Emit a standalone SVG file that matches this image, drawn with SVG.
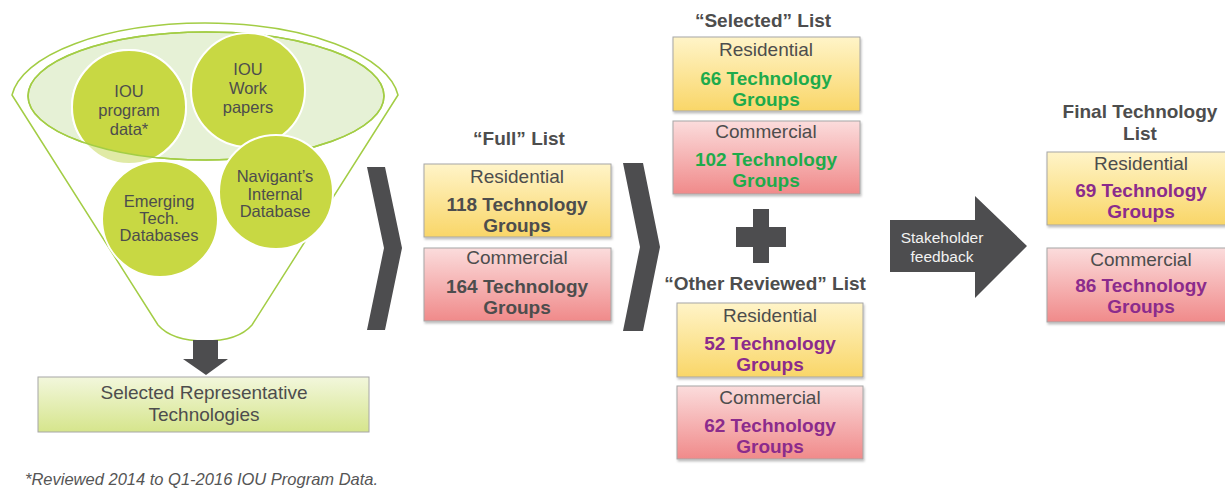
<svg xmlns="http://www.w3.org/2000/svg" width="1225" height="492" viewBox="0 0 1225 492">
<defs>
<linearGradient id="gy" x1="0" y1="0" x2="0" y2="1"><stop offset="0" stop-color="#fff4c8"/><stop offset="1" stop-color="#f9d668"/></linearGradient>
<linearGradient id="gp" x1="0" y1="0" x2="0" y2="1"><stop offset="0" stop-color="#fbdcdc"/><stop offset="1" stop-color="#f08a8a"/></linearGradient>
<linearGradient id="gg" x1="0" y1="0" x2="0" y2="1"><stop offset="0" stop-color="#f2f7dc"/><stop offset="1" stop-color="#d6e58c"/></linearGradient>
<clipPath id="inner"><ellipse cx="206" cy="96" rx="178" ry="64"/></clipPath>
<filter id="sh" x="-5%" y="-5%" width="110%" height="120%"><feDropShadow dx="1" dy="2" stdDeviation="1.2" flood-color="#000" flood-opacity="0.25"/></filter>
</defs>
<style>
text{font-family:"Liberation Sans",Arial,sans-serif;text-anchor:middle;fill:#4d4d4d}
.box{stroke:#a6a6a6;stroke-width:1;filter:url(#sh)}
.y{fill:url(#gy)}
.p{fill:url(#gp)}
.lab{font-size:19px}
.num{font-size:19px;font-weight:bold}
.ttl{font-size:19px;font-weight:bold}
.grn{fill:#1eab4b}
.pur{fill:#8b2b8c}
.circ{fill:#c8d843;stroke:#ffffff;stroke-width:2}
.ct{font-size:16.5px}
.dark{fill:#4d4d4f}
</style>
<rect width="1225" height="492" fill="#ffffff"/>

<g id="funnel">
<path d="M12,95 A194,80 0 0 1 398,95 L252,325 Q238,341 205,341 Q172,341 158,325 Z" fill="none" stroke="#a3cd45" stroke-width="1.5"/>
<ellipse cx="206" cy="96" rx="178" ry="64" fill="#e6f1d6" stroke="#a3cd45" stroke-width="1.5"/>
</g>

<g id="iou-program-data">
<circle cx="129" cy="107" r="57" fill="#e0eaa6" stroke="#ffffff" stroke-width="2"/>
<circle cx="129" cy="107" r="57" class="circ" clip-path="url(#inner)"/>
<ellipse cx="206" cy="96" rx="178" ry="64" fill="none" stroke="#a3cd45" stroke-width="1.5"/>
<text class="ct" x="129" y="97">IOU</text>
<text class="ct" x="129" y="116">program</text>
<text class="ct" x="129" y="135">data*</text>
</g>
<g id="iou-work-papers">
<circle cx="248" cy="90" r="57" class="circ"/>
<text class="ct" x="248" y="75">IOU</text>
<text class="ct" x="248" y="94">Work</text>
<text class="ct" x="248" y="113">papers</text>
</g>
<g id="emerging-tech">
<circle cx="160" cy="219" r="58" class="circ"/>
<text class="ct" x="159" y="207">Emerging</text>
<text class="ct" x="159" y="224">Tech.</text>
<text class="ct" x="159" y="241">Databases</text>
</g>
<g id="navigant-db">
<circle cx="276" cy="192" r="57" class="circ"/>
<text class="ct" x="275" y="182">Navigant’s</text>
<text class="ct" x="275" y="200">Internal</text>
<text class="ct" x="275" y="217">Database</text>
</g>

<g id="connectors">
<path class="dark" d="M193,340 H218 V359 H228 L206,375 L183,359 H193 Z"/>
<polygon class="dark" points="367,167 385,167 402,248 385,330 367,330 384,248"/>
<polygon class="dark" points="623,163 643,163 660,247 643,331 623,331 640,247"/>
<path class="dark" d="M753,209 H769 V227 H786 V247 H769 V263 H753 V247 H736 V227 H753 Z"/>
</g>

<g id="selected-representative">
<rect x="38" y="377" width="331" height="55" fill="url(#gg)" stroke="#a6a6a6" stroke-width="1"/>
<text class="lab" x="204" y="399">Selected Representative</text>
<text class="lab" x="204" y="421">Technologies</text>
</g>

<text id="footnote" x="25" y="485" style="text-anchor:start;font-size:16.5px;font-style:italic;fill:#555">*Reviewed 2014 to Q1-2016 IOU Program Data.</text>

<g id="full-list">
<text class="ttl" x="519" y="145">“Full” List</text>
<g id="full-res">
<rect class="box y" x="424" y="164" width="187" height="73"/>
<text class="lab" x="517" y="183">Residential</text>
<text class="num" x="517" y="211">118 Technology</text>
<text class="num" x="517" y="232">Groups</text>
</g>
<g id="full-com">
<rect class="box p" x="424" y="248" width="187" height="73"/>
<text class="lab" x="517" y="264">Commercial</text>
<text class="num" x="517" y="293">164 Technology</text>
<text class="num" x="517" y="314">Groups</text>
</g>
</g>

<g id="selected-list">
<text class="ttl" x="763" y="27">“Selected” List</text>
<g id="sel-res">
<rect class="box y" x="673" y="37" width="187" height="74"/>
<text class="lab" x="766" y="56">Residential</text>
<text class="num grn" x="766" y="85">66 Technology</text>
<text class="num grn" x="766" y="106">Groups</text>
</g>
<g id="sel-com">
<rect class="box p" x="673" y="121" width="187" height="73"/>
<text class="lab" x="766" y="138">Commercial</text>
<text class="num grn" x="766" y="166">102 Technology</text>
<text class="num grn" x="766" y="187">Groups</text>
</g>
</g>

<g id="other-list">
<text class="ttl" x="765" y="290">“Other Reviewed” List</text>
<g id="oth-res">
<rect class="box y" x="677" y="303" width="186" height="74"/>
<text class="lab" x="770" y="322">Residential</text>
<text class="num pur" x="770" y="350">52 Technology</text>
<text class="num pur" x="770" y="371">Groups</text>
</g>
<g id="oth-com">
<rect class="box p" x="677" y="386" width="186" height="73"/>
<text class="lab" x="770" y="404">Commercial</text>
<text class="num pur" x="770" y="432">62 Technology</text>
<text class="num pur" x="770" y="453">Groups</text>
</g>
</g>

<g id="stakeholder-feedback">
<path class="dark" d="M890,220 H975 V196 L1027,246 L975,298 V272 H890 Z"/>
<text x="942" y="243" style="font-size:15.5px;fill:#f2f2f2">Stakeholder</text>
<text x="942" y="262" style="font-size:15.5px;fill:#f2f2f2">feedback</text>
</g>

<g id="final-list">
<text class="ttl" x="1140" y="118">Final Technology</text>
<text class="ttl" x="1140" y="140">List</text>
<g id="fin-res">
<rect class="box y" x="1047" y="152" width="190" height="73"/>
<text class="lab" x="1141" y="170">Residential</text>
<text class="num pur" x="1141" y="197">69 Technology</text>
<text class="num pur" x="1141" y="218">Groups</text>
</g>
<g id="fin-com">
<rect class="box p" x="1047" y="248" width="190" height="74"/>
<text class="lab" x="1141" y="266">Commercial</text>
<text class="num pur" x="1141" y="292">86 Technology</text>
<text class="num pur" x="1141" y="313">Groups</text>
</g>
</g>
</svg>
